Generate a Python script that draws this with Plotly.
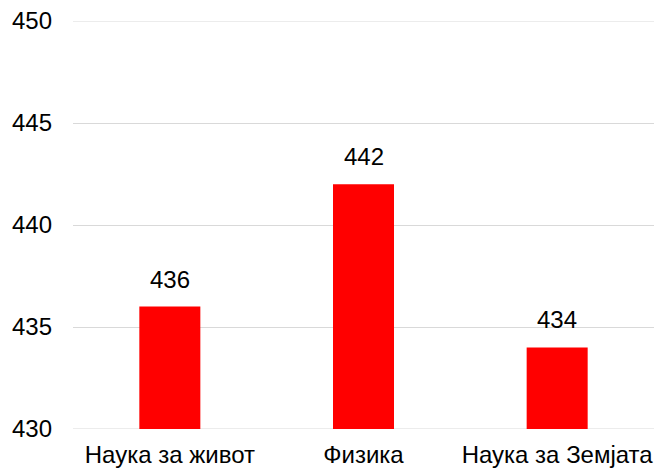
import plotly.graph_objects as go

# 데이터
categories = ["Наука за живот", "Физика", "Наука за Земјата"]
scores = [436, 442, 434]
y_ticks = [430, 435, 440, 445, 450]

FONT = "Liberation Sans, Arial, sans-serif"
GRID = "#d9d9d9"

fig = go.Figure()

fig.add_trace(go.Bar(
    x=categories,
    y=scores,
    marker=dict(color="#ff0000", line=dict(width=0)),
    width=0.315,
    hoverinfo="x+y",
))

# 막대 위 값 표시
for cat, val in zip(categories, scores):
    fig.add_annotation(
        x=cat, y=val, text=str(val), showarrow=False,
        yanchor="bottom", yshift=12,
        font=dict(family=FONT, size=24, color="#000000"),
    )

# 축 양 끝 격자선 (plotly가 가장자리 격자선을 숨기므로 직접 추가)
for v in (y_ticks[0], y_ticks[-1]):
    fig.add_hline(y=v, line=dict(color=GRID, width=1), layer="below")

fig.update_layout(
    width=654, height=470,
    margin=dict(l=73, r=0, t=21, b=41),
    plot_bgcolor="white", paper_bgcolor="white",
    showlegend=False,
    font=dict(family=FONT, size=24, color="#000000"),
    xaxis=dict(showgrid=False, showline=False, ticks="", zeroline=False,
               ticklabelstandoff=9),
    yaxis=dict(
        range=[y_ticks[0], y_ticks[-1]], tickvals=y_ticks,
        showgrid=True, gridcolor=GRID, gridwidth=1,
        zeroline=False, showline=False, ticks="",
        ticklabelstandoff=20,
    ),
)

# body 기본 여백 제거
fig.write_html("out.html", config={"displayModeBar": False},
               post_script="document.body.style.margin='0px';")
